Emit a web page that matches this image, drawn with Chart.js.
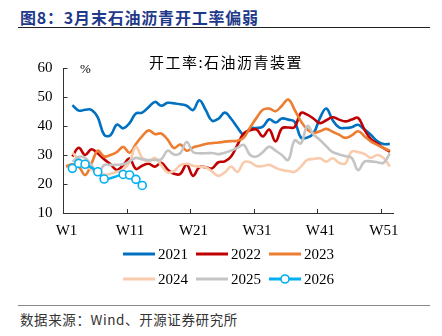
<!DOCTYPE html>
<html><head><meta charset="utf-8">
<script src="https://cdn.jsdelivr.net/npm/chart.js@4"></script>
<style>
html,body{margin:0;padding:0;background:#fff;width:442px;height:336px;overflow:hidden;position:relative;}
#hdr{position:absolute;left:20px;top:5px;font:bold 16px "Noto Sans CJK SC";letter-spacing:0.8px;color:#1F3A8A;white-space:nowrap;}
#hl{position:absolute;left:18px;top:27px;width:412px;height:0;border-top:1.3px solid #222;}
#cv{position:absolute;left:0;top:30px;}
#bl{position:absolute;left:18px;top:305px;width:412px;height:0;border-top:1.5px solid #888;}
#src{position:absolute;left:20px;top:309px;font:13.5px "Noto Sans CJK SC";letter-spacing:0.6px;color:#333;white-space:nowrap;}
</style></head>
<body>
<div id="hdr">图8：3月末石油沥青开工率偏弱</div>
<div id="hl"></div>
<canvas id="cv" width="442" height="270"></canvas>
<div id="bl"></div>
<div id="src">数据来源：Wind、开源证券研究所</div>
<script>
// ---- data ----
const chartTitle = '开工率:石油沥青装置';
const unitLabel = '%';
const seriesNames = ['2021','2022','2023','2024','2025','2026'];
const weeks = [1,2,3,4,5,6,7,8,9,10,11,12,13,14,15,16,17,18,19,20,21,22,23,24,25,26,27,28,29,30,31,32,33,34,35,36,37,38,39,40,41,42,43,44,45,46,47,48,49,50,51,52];
const tickWeeks = [1,11,21,31,41,51];
const tickLabels = ['W1','W11','W21','W31','W41','W51'];
const yTicks = [10,20,30,40,50,60];
const v2021 = [null,47.2,45.3,45.6,45.6,43.0,37.0,36.8,40.5,39.2,41.0,44.3,44.6,46.5,48.3,47.0,48.0,47.8,47.5,47.0,45.5,48.9,45.5,41.8,42.5,44.6,42.5,39.5,37.0,39.2,39.3,39.8,42.3,41.2,42.6,42.2,41.5,36.0,36.0,37.5,42.8,46.0,42.0,39.5,39.3,39.6,40.4,38.8,37.0,34.8,33.8,33.8];
const v2022 = [null,29.5,32.5,30.0,32.0,30.5,28.5,26.8,24.8,26.5,28.8,25.2,26.3,27.0,26.0,27.3,25.0,23.5,23.5,26.7,22.8,25.8,25.8,25.4,27.5,27.8,29.5,33.5,37.5,38.5,38.8,36.4,38.8,34.7,39.2,39.5,39.6,44.5,43.9,42.5,41.0,42.0,43.0,42.2,41.6,42.2,42.8,38.8,35.5,34.0,32.4,31.1];
const v2023 = [26.0,26.8,26.0,23.1,27.0,31.5,29.5,30.0,31.0,32.8,30.8,33.8,36.5,38.5,37.2,37.4,35.3,32.4,33.6,31.5,32.6,33.2,33.8,34.1,34.3,34.6,34.8,34.9,36.0,39.5,42.8,45.6,46.0,45.1,47.0,49.1,45.6,41.6,38.8,37.6,38.2,39.0,38.0,37.0,35.9,36.8,38.2,36.5,34.7,33.5,32.4,31.5];
const v2024 = [null,30.8,28.5,26.5,25.0,24.0,23.2,23.5,24.2,25.0,27.5,32.8,29.0,27.8,29.0,26.5,24.0,24.5,26.5,27.0,26.3,26.0,25.8,24.3,22.8,24.0,26.0,24.2,27.5,27.5,26.2,26.2,26.6,25.6,24.8,24.5,24.2,26.0,28.3,28.6,28.9,27.7,28.9,27.3,27.1,31.2,31.0,30.4,29.0,30.0,29.0,26.0];
const v2025 = [null,27.7,29.4,29.0,26.5,23.8,26.5,26.6,26.6,26.8,27.8,29.0,28.5,28.3,28.3,28.5,31.5,30.2,30.6,34.5,31.0,30.6,30.6,30.7,30.3,30.8,31.5,32.5,33.5,30.0,29.5,31.0,32.9,31.5,30.0,28.3,35.0,34.0,40.0,37.0,35.2,33.0,31.0,30.2,29.6,29.0,24.8,27.7,27.8,27.5,27.3,30.5];
const weeks2026 = [2,3,4,6,7,10,11,12,13];
const v2026 = [25.4,27.1,26.8,24.2,21.7,23.3,23.1,21.6,19.5];
const colors = ['#0070C0','#C00000','#ED7D31','#F8CBAD','#C4C4C4','#00B0F0'];
// weekly points sit slightly to the right of the week tick marks in the source
const TICK_SHIFT = 0.4;

function pts(ws, vs){ return ws.map((w,i)=>({x:w, y:vs[i]})).filter(p=>p.y!==null); }
const allVals = [v2021,v2022,v2023,v2024,v2025];
const datasets = allVals.map((vs,i)=>({
  label: seriesNames[i], data: pts(weeks, vs), borderColor: colors[i], backgroundColor: colors[i],
  borderWidth: 2.6, pointRadius: 0, tension: 0.4, order: 6 - i, fill:false
}));
datasets.push({
  label: seriesNames[5], data: pts(weeks2026, v2026), borderColor: colors[5], backgroundColor:'#fff',
  borderWidth: 2.4, pointRadius: 4, pointBorderWidth: 1.6, pointBackgroundColor:'#fff', pointBorderColor: colors[5],
  tension: 0.4, order: 0, fill:false
});

const serif = '"Liberation Serif", "Times New Roman", serif';
const deco = {
  id:'deco',
  afterDraw(chart){
    const {ctx, chartArea:a, scales:{x,y}} = chart;
    ctx.save();
    ctx.strokeStyle = '#333'; ctx.lineWidth = 1;
    x.ticks.forEach(t=>{
      const px = Math.round(x.getPixelForValue(t.value))+0.5;
      if (px < a.left + 2) return;
      ctx.beginPath(); ctx.moveTo(px, a.bottom); ctx.lineTo(px, a.bottom-4); ctx.stroke();
    });
    y.ticks.forEach(t=>{
      const py = Math.round(y.getPixelForValue(t.value))+0.5;
      ctx.beginPath(); ctx.moveTo(a.left, py); ctx.lineTo(a.left+4, py); ctx.stroke();
    });
    ctx.fillStyle = '#000';
    ctx.textBaseline = 'middle'; ctx.textAlign = 'left';
    ctx.font = '13px ' + serif;
    ctx.fillText(unitLabel, 80, 40);
    ctx.font = '15px "Noto Sans CJK SC"';
    if ('letterSpacing' in ctx) ctx.letterSpacing = '1.5px';
    ctx.textAlign = 'center';
    ctx.fillText(chartTitle, 226, 32);
    if ('letterSpacing' in ctx) ctx.letterSpacing = '0px';
    // legend
    ctx.textAlign = 'left';
    ctx.font = '15px ' + serif;
    chart.data.datasets.forEach((ds,i)=>{
      const col = i % 3, row = Math.floor(i/3);
      const x0 = 123 + col*73, yy = 224 + row*25;
      ctx.strokeStyle = ds.borderColor; ctx.lineWidth = 3;
      ctx.beginPath(); ctx.moveTo(x0, yy); ctx.lineTo(x0+32, yy); ctx.stroke();
      if (ds.pointRadius > 0){
        ctx.beginPath(); ctx.arc(x0+16, yy, 4, 0, Math.PI*2);
        ctx.fillStyle = '#fff'; ctx.fill(); ctx.lineWidth = 1.6; ctx.stroke();
      }
      ctx.fillStyle = '#000';
      ctx.fillText(ds.label, x0+35, yy+1);
    });
    ctx.restore();
  }
};

new Chart(document.getElementById('cv'), {
  type:'line',
  data:{ datasets },
  options:{
    responsive:false, animation:false, devicePixelRatio:1,
    layout:{ padding:{ left:0, right:49, top:38, bottom:0 } },
    plugins:{ legend:{display:false}, tooltip:{enabled:false}, title:{display:false} },
    scales:{
      x:{
        type:'linear', min: tickWeeks[0]-TICK_SHIFT, max: 52.5,
        afterBuildTicks(s){ s.ticks = tickWeeks.map(w=>({value:w-TICK_SHIFT})); },
        afterFit(s){ s.height = 87; },
        grid:{display:false, drawTicks:false},
        border:{display:true, color:'#333', width:1},
        ticks:{ autoSkip:false, maxRotation:0, padding:9, labelOffset:3, color:'#000',
          font:{family:serif, size:15},
          callback:(v)=>{ const k = tickWeeks.findIndex(w=>Math.abs(w-TICK_SHIFT-v)<1e-6); return k>=0 ? tickLabels[k] : ''; } }
      },
      y:{
        min:yTicks[0], max:yTicks[yTicks.length-1],
        afterBuildTicks(s){ s.ticks = yTicks.map(v=>({value:v})); },
        afterFit(s){ s.width = 63.5; },
        grid:{display:false, drawTicks:false},
        border:{display:true, color:'#333', width:1},
        ticks:{ padding:11, color:'#000', font:{family:serif, size:15} }
      }
    }
  },
  plugins:[deco]
});
</script>
</body></html>
